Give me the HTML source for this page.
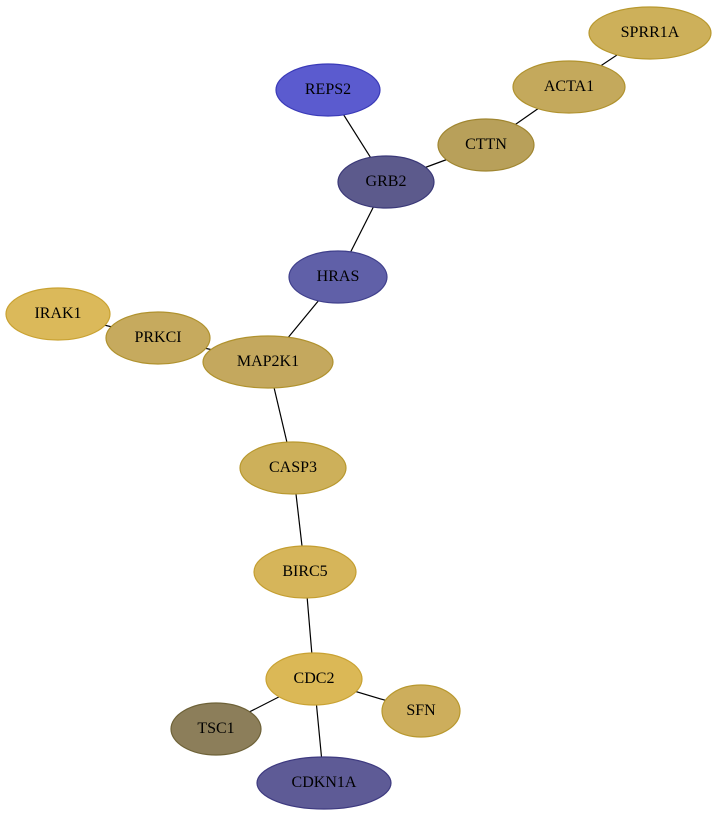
<!DOCTYPE html>
<html><head><meta charset="utf-8"><style>html,body{margin:0;padding:0;background:#fff}svg{display:block}</style></head>
<body>
<svg width="719" height="817" viewBox="0 0 719 817" xmlns="http://www.w3.org/2000/svg">
<g stroke="#000" stroke-width="1.2">
<line x1="650" y1="33" x2="569" y2="87"/>
<line x1="569" y1="87" x2="486" y2="145"/>
<line x1="486" y1="145" x2="386" y2="182"/>
<line x1="328" y1="90" x2="386" y2="182"/>
<line x1="386" y1="182" x2="338" y2="277"/>
<line x1="338" y1="277" x2="268" y2="362"/>
<line x1="58" y1="314" x2="158" y2="338"/>
<line x1="158" y1="338" x2="268" y2="362"/>
<line x1="268" y1="362" x2="293" y2="468"/>
<line x1="293" y1="468" x2="305" y2="572"/>
<line x1="305" y1="572" x2="314" y2="679"/>
<line x1="314" y1="679" x2="421" y2="711"/>
<line x1="314" y1="679" x2="216" y2="729"/>
<line x1="314" y1="679" x2="324" y2="783"/>
</g>
<g stroke-width="1.2" font-family="'Liberation Serif',serif" font-size="16" text-anchor="middle">
<ellipse cx="650" cy="33" rx="61" ry="26" fill="#cdb05a" stroke="#b8982e"/><text x="650" y="37">SPRR1A</text>
<ellipse cx="569" cy="87" rx="56" ry="26" fill="#c4a95c" stroke="#b0922e"/><text x="569" y="91">ACTA1</text>
<ellipse cx="328" cy="90" rx="52" ry="26" fill="#5b5bcf" stroke="#3a3ab8"/><text x="328" y="94">REPS2</text>
<ellipse cx="486" cy="145" rx="48" ry="26" fill="#b8a05a" stroke="#a08630"/><text x="486" y="149">CTTN</text>
<ellipse cx="386" cy="182" rx="48" ry="26" fill="#5c5a8c" stroke="#3a3878"/><text x="386" y="186">GRB2</text>
<ellipse cx="338" cy="277" rx="49" ry="26" fill="#6060a8" stroke="#40408c"/><text x="338" y="281">HRAS</text>
<ellipse cx="58" cy="314" rx="52" ry="26" fill="#dbb95a" stroke="#c9a232"/><text x="58" y="318">IRAK1</text>
<ellipse cx="158" cy="338" rx="52" ry="26" fill="#c6aa5e" stroke="#b0922e"/><text x="158" y="342">PRKCI</text>
<ellipse cx="268" cy="362" rx="65" ry="26" fill="#c4a85e" stroke="#b0922e"/><text x="268" y="366">MAP2K1</text>
<ellipse cx="293" cy="468" rx="53" ry="26" fill="#cdb05a" stroke="#b8982e"/><text x="293" y="472">CASP3</text>
<ellipse cx="305" cy="572" rx="51" ry="26" fill="#d6b55a" stroke="#c49e30"/><text x="305" y="576">BIRC5</text>
<ellipse cx="314" cy="679" rx="48" ry="26" fill="#dbb856" stroke="#c9a232"/><text x="314" y="683">CDC2</text>
<ellipse cx="421" cy="711" rx="39" ry="26" fill="#cdae5c" stroke="#b8982e"/><text x="421" y="715">SFN</text>
<ellipse cx="216" cy="729" rx="45" ry="26" fill="#8c7e5a" stroke="#6e6238"/><text x="216" y="733">TSC1</text>
<ellipse cx="324" cy="783" rx="67" ry="26" fill="#5e5b96" stroke="#3e3a80"/><text x="324" y="787">CDKN1A</text>
</g>
</svg>
</body></html>
